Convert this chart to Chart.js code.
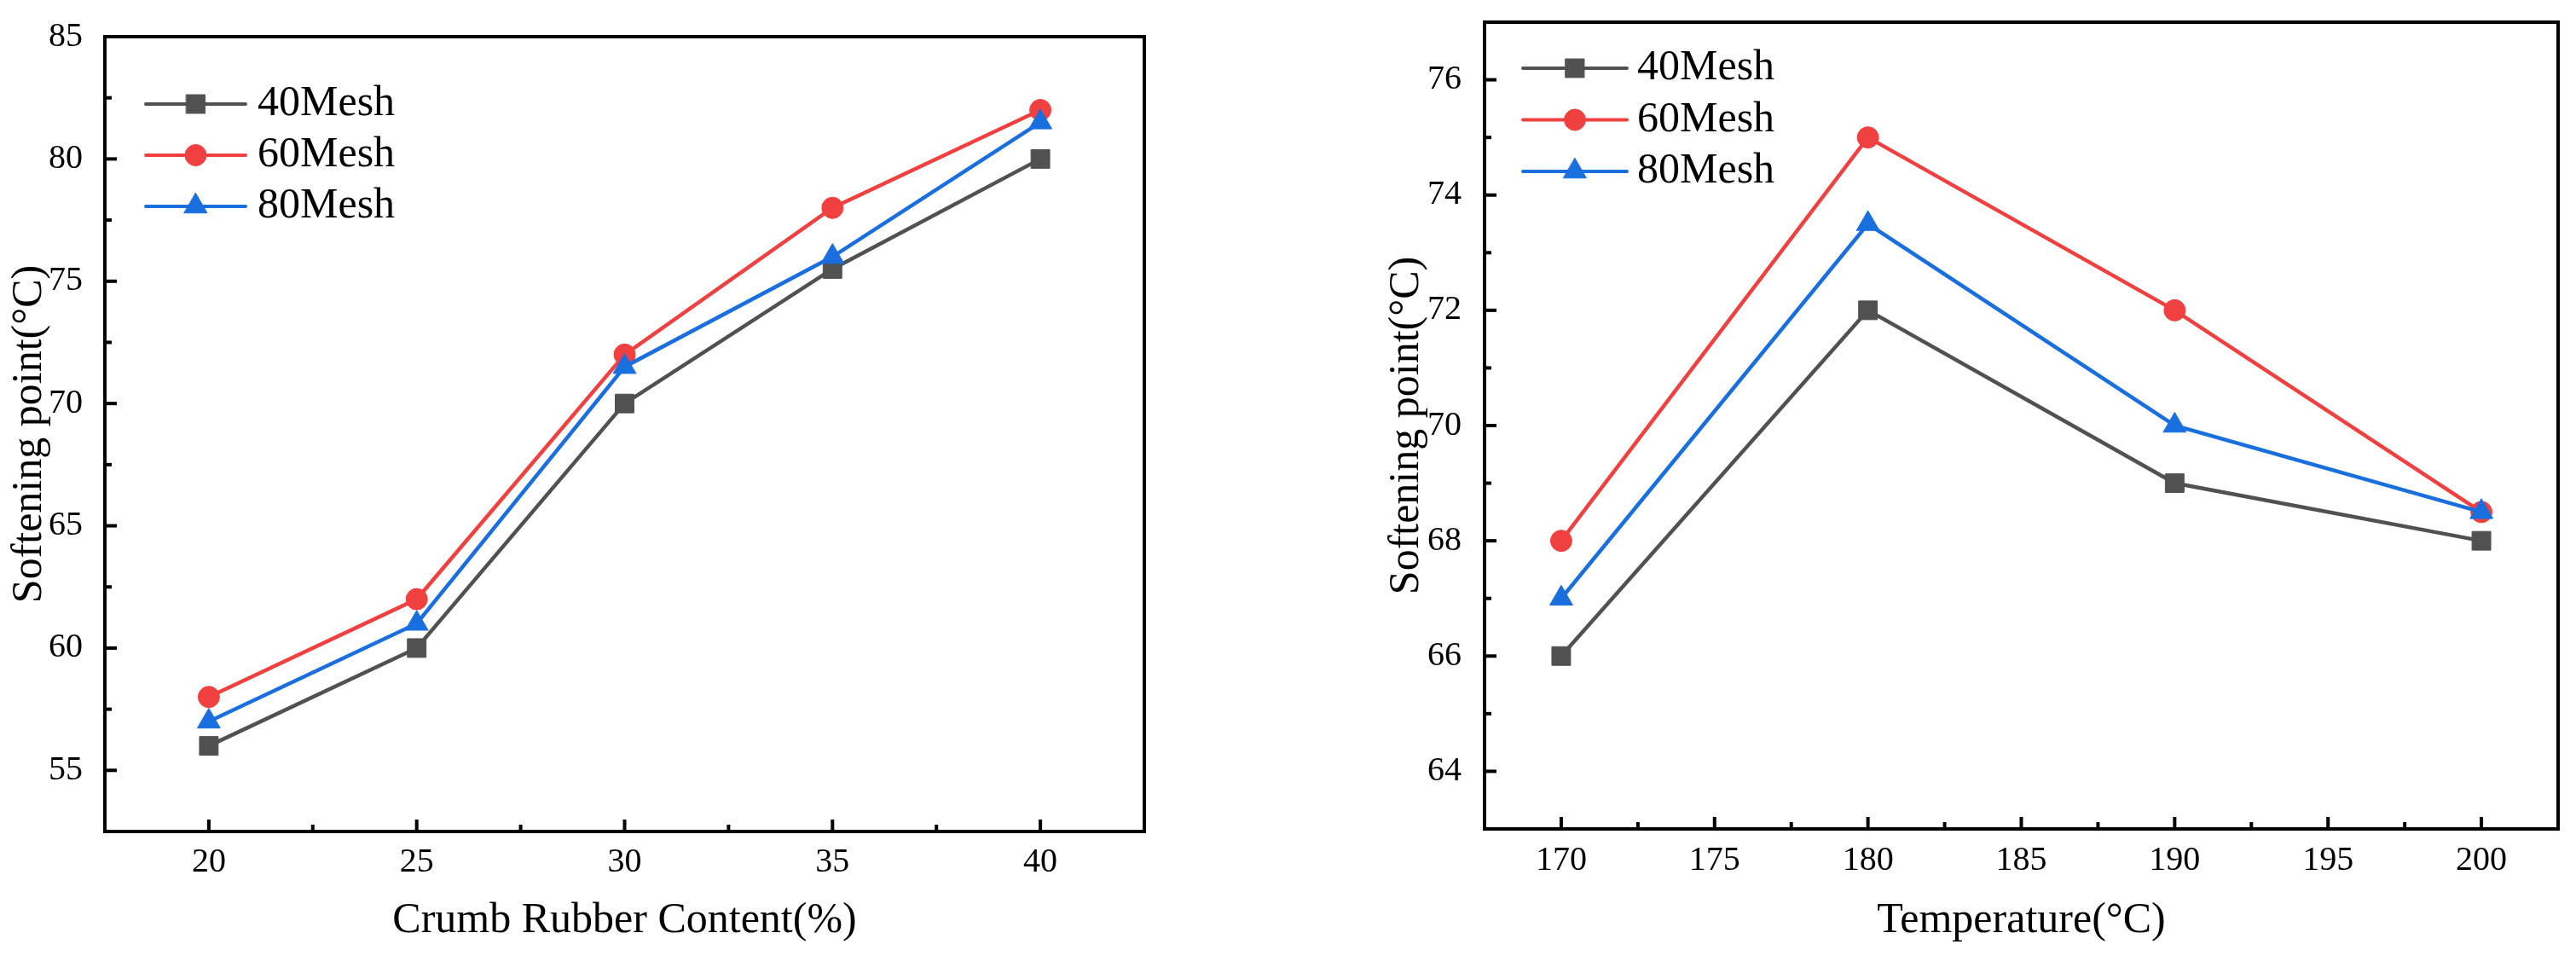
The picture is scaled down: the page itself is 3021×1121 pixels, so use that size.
<!DOCTYPE html>
<html>
<head>
<meta charset="utf-8">
<script src="https://cdn.jsdelivr.net/npm/chart.js@4.4.0/dist/chart.umd.min.js"></script>
<style>
html,body{margin:0;padding:0;background:#fff;}
#wrap{position:relative;width:3021px;height:1121px;overflow:hidden;background:#fff;}
canvas{position:absolute;top:0;}
</style>
</head>
<body>
<div id="wrap">
	<canvas id="contentChart" width="1400" height="1121" style="left:0px;"></canvas>
	<canvas id="tempChart" width="1501" height="1121" style="left:1520px;"></canvas>
</div>
<script>
//--------------------DATA----------------------------//
var seriesNames = ['40Mesh','60Mesh','80Mesh'];

var rubberContent = [20,25,30,35,40];
var content40Mesh = [56,60,70,75.5,80];
var content60Mesh = [58,62,72,78,82];
var content80Mesh = [57,61,71.5,76,81.5];
var contentXTicks = [20,25,30,35,40];
var contentYTicks = [55,60,65,70,75,80,85];

var temperature = [170,180,190,200];
var temp40Mesh = [66,72,69,68];
var temp60Mesh = [68,75,72,68.5];
var temp80Mesh = [67,73.5,70,68.5];
var tempXTicks = [170,175,180,185,190,195,200];
var tempYTicks = [64,66,68,70,72,74,76];

//--------------------STYLE---------------------------//
var seriesColors = ['#515151','#F14040','#1A6FDF'];
var seriesMarkers = ['rect','circle','triangle'];
var markerRadius = [15.5,12.5,15.5];
var FONT = "'Liberation Serif', 'Times New Roman', serif";

function buildDatasets(xs, ys){
	var sets = [];
	for(var i=0;i<ys.length;i++)
	{
		var pts = [];
		for(var j=0;j<xs.length;j++)
		{
			pts.push({x: xs[j], y: ys[i][j]});
		}
		sets.push({
			label: seriesNames[i],
			data: pts,
			borderColor: seriesColors[i],
			backgroundColor: seriesColors[i],
			borderWidth: 4.5,
			tension: 0,
			pointStyle: seriesMarkers[i],
			pointRadius: markerRadius[i],
			pointBorderWidth: 1,
			pointBackgroundColor: seriesColors[i],
			pointBorderColor: seriesColors[i],
			order: ys.length - i,
			clip: false
		});
	}
	return sets;
}

// same shapes chart.js uses for its points, for the legend sample
function drawMarker(ctx, style, r, x, y){
	ctx.beginPath();
	if(style === 'rect'){
		var s = Math.SQRT1_2 * r;
		ctx.rect(x - s, y - s, 2*s, 2*s);
	}else if(style === 'triangle'){
		ctx.moveTo(x, y - r);
		ctx.lineTo(x + Math.sin(2*Math.PI/3)*r, y - Math.cos(2*Math.PI/3)*r);
		ctx.lineTo(x + Math.sin(4*Math.PI/3)*r, y - Math.cos(4*Math.PI/3)*r);
		ctx.closePath();
	}else{
		ctx.arc(x, y, r, 0, Math.PI*2);
	}
	ctx.fill();
	ctx.stroke();
}

function drawAxisTicks(ctx, scale, horizontal, a){
	var vals = scale.ticks.map(function(t){ return t.value; });
	var step = vals[1] - vals[0];
	var i, p;
	for(i=0;i<vals.length;i++)
	{
		p = scale.getPixelForValue(vals[i]);
		ctx.beginPath();
		if(horizontal){ ctx.moveTo(p, a.bottom); ctx.lineTo(p, a.bottom - 14); }
		else{ ctx.moveTo(a.left, p); ctx.lineTo(a.left + 14, p); }
		ctx.stroke();
	}
	for(var v = vals[0] - step/2; v <= scale.max + 1e-9; v += step)
	{
		if(v < scale.min - 1e-9) continue;
		p = scale.getPixelForValue(v);
		ctx.beginPath();
		if(horizontal){ ctx.moveTo(p, a.bottom); ctx.lineTo(p, a.bottom - 8); }
		else{ ctx.moveTo(a.left, p); ctx.lineTo(a.left + 8, p); }
		ctx.stroke();
	}
}

var frameTicksPlugin = {
	id: 'frameTicks',
	afterDatasetsDraw: function(chart){
		var ctx = chart.ctx, a = chart.chartArea;
		ctx.save();
		ctx.strokeStyle = '#000';
		ctx.lineWidth = 4;
		ctx.lineCap = 'square';
		ctx.strokeRect(a.left, a.top, a.right - a.left, a.bottom - a.top);
		ctx.lineCap = 'butt';
		drawAxisTicks(ctx, chart.scales.x, true, a);
		drawAxisTicks(ctx, chart.scales.y, false, a);
		ctx.restore();
	}
};

var meshLegendPlugin = {
	id: 'meshLegend',
	afterDraw: function(chart, args, opts){
		var ctx = chart.ctx, a = chart.chartArea;
		chart.data.datasets.forEach(function(ds, i){
			var y = a.top + opts.top + i*opts.gap;
			var x0 = a.left + opts.left;
			ctx.save();
			ctx.strokeStyle = ds.borderColor;
			ctx.lineWidth = 4;
			ctx.lineCap = 'round';
			ctx.beginPath();
			ctx.moveTo(x0, y);
			ctx.lineTo(x0 + opts.lineLength, y);
			ctx.stroke();
			ctx.fillStyle = ds.backgroundColor;
			ctx.lineWidth = 1;
			drawMarker(ctx, ds.pointStyle, ds.pointRadius, x0 + opts.lineLength/2, y);
			ctx.fillStyle = '#000';
			ctx.font = '50px ' + FONT;
			ctx.textBaseline = 'middle';
			ctx.textAlign = 'left';
			ctx.fillText(ds.label, a.left + opts.textLeft, y);
			ctx.restore();
		});
	}
};

function noPadding(s){
	s.paddingTop = 0; s.paddingBottom = 0; s.paddingLeft = 0; s.paddingRight = 0;
}

function makeChart(id, xs, ys, cfg){
	var ctx = document.getElementById(id).getContext('2d');
	return new Chart(ctx, {
		type: 'line',
		data: { datasets: buildDatasets(xs, ys) },
		plugins: [frameTicksPlugin, meshLegendPlugin],
		options: {
			responsive: false,
			animation: false,
			devicePixelRatio: 1,
			events: [],
			layout: { padding: cfg.padding },
			plugins: {
				legend: { display: false },
				tooltip: { enabled: false },
				meshLegend: cfg.legend
			},
			scales: {
				x: {
					type: 'linear',
					min: cfg.xMin,
					max: cfg.xMax,
					afterBuildTicks: function(s){ s.ticks = cfg.xTicks.map(function(v){ return {value: v}; }); },
					afterFit: function(s){ s.height = cfg.xHeight; noPadding(s); },
					grid: { display: false },
					border: { display: false },
					ticks: { color: '#000', font: { family: FONT, size: 40 }, padding: cfg.xTickPad, maxRotation: 0 },
					title: { display: true, text: cfg.xTitle, color: '#000', font: { family: FONT, size: 50 }, padding: { top: 0, bottom: 11 } }
				},
				y: {
					type: 'linear',
					min: cfg.yMin,
					max: cfg.yMax,
					afterBuildTicks: function(s){ s.ticks = cfg.yTicks.map(function(v){ return {value: v}; }); },
					afterFit: function(s){ s.width = cfg.yWidth; noPadding(s); },
					grid: { display: false },
					border: { display: false },
					ticks: { color: '#000', font: { family: FONT, size: 40 }, padding: cfg.yTickPad },
					title: { display: true, text: 'Softening point(°C)', color: '#000', font: { family: FONT, size: 50 }, padding: { top: cfg.yTitlePad, bottom: 0 } }
				}
			}
		}
	});
}

//--------------------CRUMB RUBBER CONTENT CHART--------------------//
var contentChart = makeChart('contentChart', rubberContent, [content40Mesh, content60Mesh, content80Mesh], {
	padding: { left: 0, top: 43, right: 58, bottom: 0 },
	xMin: 17.5, xMax: 42.5, xTicks: contentXTicks, xHeight: 146, xTickPad: 4,
	xTitle: 'Crumb Rubber Content(%)',
	yMin: 52.5, yMax: 85, yTicks: contentYTicks, yWidth: 123, yTickPad: 18, yTitlePad: 5,
	legend: { left: 48, top: 79, gap: 60, lineLength: 117, textLeft: 179 }
});

//--------------------TEMPERATURE CHART-----------------------------//
var tempChart = makeChart('tempChart', temperature, [temp40Mesh, temp60Mesh, temp80Mesh], {
	padding: { left: 0, top: 26, right: 21, bottom: 0 },
	xMin: 167.5, xMax: 202.5, xTicks: tempXTicks, xHeight: 149, xTickPad: 5.5,
	xTitle: 'Temperature(°C)',
	yMin: 63, yMax: 77, yTicks: tempYTicks, yWidth: 221, yTickPad: 19, yTitlePad: 100,
	legend: { left: 45, top: 54, gap: 60.5, lineLength: 122, textLeft: 179 }
});
</script>
</body>
</html>
